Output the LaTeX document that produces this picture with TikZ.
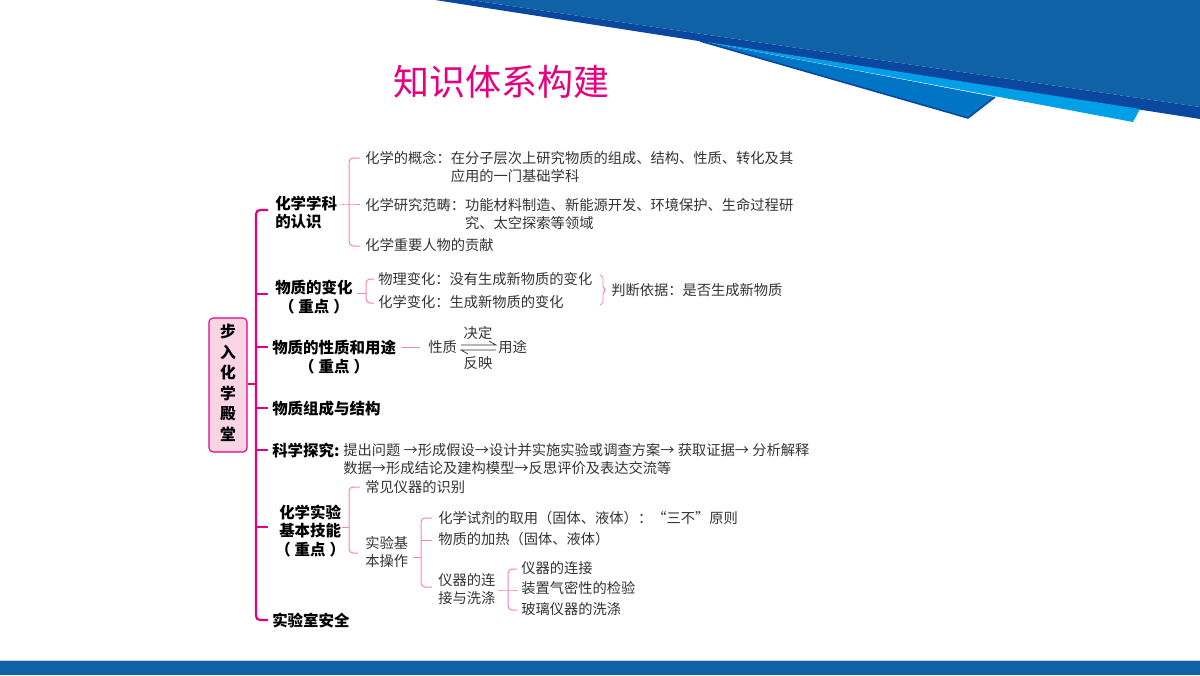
\documentclass[tikz,border=0pt]{standalone}
\usepackage{fontspec}
\setmainfont{Noto Sans CJK SC}
\definecolor{mag}{HTML}{E4007F}
\definecolor{pinkl}{HTML}{F183BA}
\definecolor{boxfill}{HTML}{F9D4E5}
\definecolor{txt}{HTML}{333333}
\definecolor{bandblue}{HTML}{0E62A5}
\definecolor{navy}{HTML}{0A48A0}
\definecolor{lightblue}{HTML}{00A0E9}
\definecolor{midblue}{HTML}{0075C5}
\definecolor{barline}{HTML}{BFD3E8}
\newcommand{\kd}{（\hspace{3pt}重点\hspace{3pt}）}
\begin{document}
\begin{tikzpicture}[x=0.75pt,y=-0.75pt,
  head/.style={inner sep=0pt, anchor=base west, font=\fontsize{11.6}{14.2}\selectfont\bfseries, text=black},
  body/.style={inner sep=0pt, anchor=base west, font=\fontsize{10.7}{13.3}\selectfont, text=txt},
  trunk/.style={draw=mag, line width=1.6pt, rounded corners=3pt},
  br/.style={draw=pinkl, line width=0.75pt, rounded corners=3pt},
  eq/.style={draw=txt, line width=0.6pt}]
\useasboundingbox (0,0) rectangle (1200,675);
% banner
\fill[bandblue] (470,0) -- (1200,0) -- (1200,107) -- cycle;
\fill[navy] (435,0) -- (470,0) -- (1200,107) -- (1200,119) -- cycle;
\fill[lightblue] (700,41) -- (1140,109) -- (1133,122) -- cycle;
\fill[midblue] (700,41) -- (995,97) -- (968,118) -- cycle;
\draw[navy, line width=1.2pt, line join=round] (700,41) -- (968,118) -- (995,97);
% bottom bar
\fill[bandblue] (0,661) rectangle (1200,675);
\draw[barline, line width=0.75pt] (0,660.5) -- (1200,660.5);
% title
\node[inner sep=0pt, text=mag, font=\fontsize{27}{30}\selectfont] (title) at (501,82) {知识体系构建};
% root
\node[draw=mag, fill=boxfill, rounded corners=3pt, line width=0.8pt, inner sep=0pt,
      minimum width=28.5pt, minimum height=100.5pt,
      font=\fontsize{11.8}{15.4}\selectfont\bfseries] (root) at (228,385)
      {\begin{tabular}{@{}c@{}}步\\入\\化\\学\\殿\\堂\end{tabular}};
% headings
\node[head] (h1) at (275,209) {\begin{tabular}[t]{@{}l@{}}化学学科\\的认识\end{tabular}};
\node[head] (h2) at (275,293) {\begin{tabular}[t]{@{}c@{}}物质的变化\\\kd\end{tabular}};
\node[head] (h3) at (272,353) {\begin{tabular}[t]{@{}c@{}}物质的性质和用途\\\kd\end{tabular}};
\node[head] (h4) at (272,414) {物质组成与结构};
\node[head] (h5) at (272,456) {科学探究:};
\node[head] (h6) at (275,518) {\begin{tabular}[t]{@{}c@{}}化学实验\\基本技能\\\kd\end{tabular}};
\node[head] (h7) at (272,626) {实验室安全};
% trunk
\coordinate (tt) at (256,210);
\coordinate (tb) at (256,620);
\coordinate (tr) at (256,384);
\coordinate (s1) at (268,210);
\coordinate (s7) at (268,620);
\draw[trunk] (s1) -- (tt) -- (tb) -- (s7);
\draw[trunk] (root.east |- tr) -- (tr);
\foreach \yy/\nm in {294/2, 347/3, 408/4, 450/5, 527/6}{
  \coordinate (t\nm) at (256,\yy);
  \coordinate (s\nm) at (268,\yy);
  \draw[trunk] (t\nm) -- (s\nm);
}
% branch 1
\node[body] (b1a) at (365,163.5) {化学的概念：\begin{tabular}[t]{@{}l@{}}在分子层次上研究物质的组成、结构、性质、转化及其\\应用的一门基础学科\end{tabular}};
\node[body] (b1b) at (365,210.5) {化学研究范畴：\begin{tabular}[t]{@{}l@{}}功能材料制造、新能源开发、环境保护、生命过程研\\究、太空探索等领域\end{tabular}};
\node[body] (b1c) at (365,250.5) {化学重要人物的贡献};
\coordinate (j1s) at (342,204);
\coordinate (j1) at (349,204);
\draw[br] (j1s) -- (j1) -- (360,204);
\draw[br] (360,158) -- (349,158) -- (349,246) -- (360,246);
% branch 2
\node[body] (b2a) at (378,284.5) {物理变化：没有生成新物质的变化};
\node[body] (b2b) at (378,307.5) {化学变化：生成新物质的变化};
\node[body] (judge) at (611,295.5) {判断依据：是否生成新物质};
\coordinate (j2s) at (357,293);
\coordinate (j2) at (366,293);
\draw[br] (j2s) -- (j2);
\draw[br] (374,279) -- (366,279) -- (366,303) -- (374,303);
\draw[draw=pinkl, line width=0.6pt, rounded corners=1.5pt] (600,275) -- (603,276) -- (603,288) -- (606,290) -- (603,292) -- (603,304) -- (600,305);
% branch 3
\node[body] (xz) at (428,352.5) {性质};
\node[body] (yt) at (498,352.5) {用途};
\node[body, anchor=base] (jd) at (478,338.5) {决定};
\node[body, anchor=base] (fy) at (478,368.5) {反映};
\coordinate (j3a) at (402,347);
\coordinate (j3b) at (420,347);
\draw[br] (j3a) -- (j3b);
\draw[eq] (461,345) -- (496,345) -- (489,341);
\draw[eq] (496,350) -- (461,350) -- (468,354);
% science
\node[body] (sci) at (343,455.5) {\begin{tabular}[t]{@{}l@{}}提出问题 →形成假设→设计并实施实验或调查方案→ 获取证据→ 分析解释\\数据→形成结论及建构模型→反思评价及表达交流等\end{tabular}};
% branch 6
\node[body] (c1) at (365,492.5) {常见仪器的识别};
\node[body] (c2) at (365,548.5) {\begin{tabular}[t]{@{}l@{}}实验基\\本操作\end{tabular}};
\coordinate (j6s) at (342,527);
\coordinate (j6) at (349,527);
\draw[br] (j6s) -- (j6);
\draw[br] (360,487) -- (349,487) -- (349,553) -- (358,553);
\node[body] (d1) at (438,523.5) {化学试剂的取用（固体、液体）：“三不”原则};
\node[body] (d2) at (438,544.5) {物质的加热（固体、液体）};
\node[body] (d3) at (438,585.5) {\begin{tabular}[t]{@{}l@{}}仪器的连\\接与洗涤\end{tabular}};
\coordinate (k6s) at (413,557);
\coordinate (k6) at (421,557);
\draw[br] (k6s) -- (k6);
\draw[br] (432,518) -- (421,518) -- (421,587) -- (432,587);
\draw[br] (421,540) -- (432,540);
\node[body] (e1) at (521,573.5) {仪器的连接};
\node[body] (e2) at (521,593.5) {装置气密性的检验};
\node[body] (e3) at (521,614.5) {玻璃仪器的洗涤};
\coordinate (m6s) at (499,590);
\coordinate (m6) at (508,590);
\draw[br] (m6s) -- (m6) -- (517,590);
\draw[br] (517,569) -- (508,569) -- (508,610) -- (517,610);
\end{tikzpicture}
\end{document}
